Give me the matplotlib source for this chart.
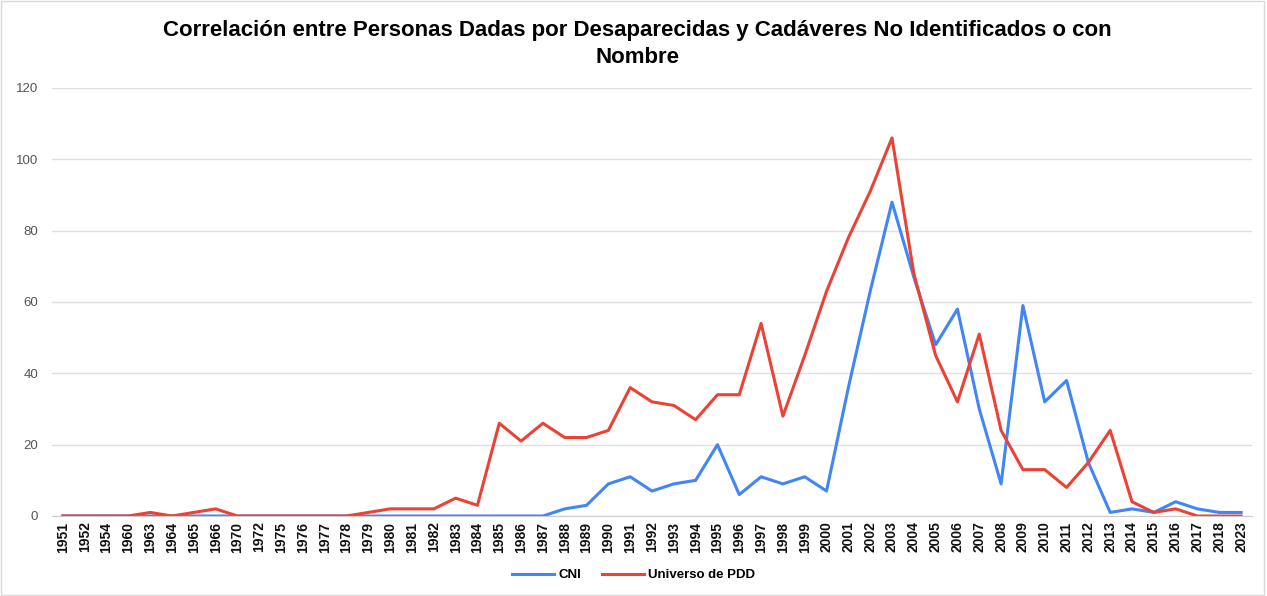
import matplotlib
matplotlib.use("Agg")
import matplotlib.pyplot as plt
from matplotlib.patches import Rectangle

plt.rcParams['font.family'] = ['Liberation Sans', 'DejaVu Sans']

years = ['1951', '1952', '1954', '1960', '1963', '1964', '1965', '1966', '1970', '1972',
         '1975', '1976', '1977', '1978', '1979', '1980', '1981', '1982', '1983', '1984',
         '1985', '1986', '1987', '1988', '1989', '1990', '1991', '1992', '1993', '1994',
         '1995', '1996', '1997', '1998', '1999', '2000', '2001', '2002', '2003', '2004',
         '2005', '2006', '2007', '2008', '2009', '2010', '2011', '2012', '2013', '2014',
         '2015', '2016', '2017', '2018', '2023']

cni = [0, 0, 0, 0, 0, 0, 0, 0, 0, 0,
       0, 0, 0, 0, 0, 0, 0, 0, 0, 0,
       0, 0, 0, 2, 3, 9, 11, 7, 9, 10,
       20, 6, 11, 9, 11, 7, 36, 63, 88, 67,
       48, 58, 30, 9, 59, 32, 38, 15, 1, 2,
       1, 4, 2, 1, 1]

pdd = [0, 0, 0, 0, 1, 0, 1, 2, 0, 0,
       0, 0, 0, 0, 1, 2, 2, 2, 5, 3,
       26, 21, 26, 22, 22, 24, 36, 32, 31, 27,
       34, 34, 54, 28, 45, 63, 78, 91, 106, 68,
       45, 32, 51, 24, 13, 13, 8, 15, 24, 4,
       1, 2, 0, 0, 0]

fig = plt.figure(figsize=(12.67, 5.96), dpi=100)
ax = fig.add_axes([52 / 1267, 1 - 516 / 596, 1200 / 1267, 428 / 596])

x = list(range(len(years)))
ax.plot(x, cni, color='#4285F4', linewidth=2.2, label='CNI')
ax.plot(x, pdd, color='#EA4335', linewidth=2.2, label='Universo de PDD')

ax.set_ylim(0, 120)
ax.set_yticks(range(0, 121, 20))
ax.set_xlim(-0.5, len(years) - 0.5)
ax.set_xticks(x)
ax.set_xticklabels(years, rotation=90, fontsize=10, fontweight='bold', color='#111111')
ax.tick_params(axis='y', labelsize=9.5, labelcolor='#555555', length=0, pad=10)
ax.tick_params(axis='x', length=0, pad=4)
ax.grid(axis='y', color='#e0e0e0', linewidth=1)
ax.set_axisbelow(True)
for s in ['top', 'right', 'left']:
    ax.spines[s].set_visible(False)
ax.spines['bottom'].set_color('#cccccc')

fig.text(0.503, 0.926, 'Correlación entre Personas Dadas por Desaparecidas y Cadáveres No Identificados o con\nNombre',
         ha='center', va='center', fontsize=16, fontweight='bold', linespacing=1.35)

fig.legend(loc='center', bbox_to_anchor=(0.5, 0.035), ncol=2, frameon=False,
           prop={'weight': 'bold', 'size': 9.5}, handlelength=3.2, columnspacing=1.6,
           handletextpad=0.3)

fig.add_artist(Rectangle((0.001, 0.002), 0.997, 0.996, transform=fig.transFigure,
                         fill=False, edgecolor='#d9d9d9', linewidth=1))

fig.savefig('out.png', dpi=100)
